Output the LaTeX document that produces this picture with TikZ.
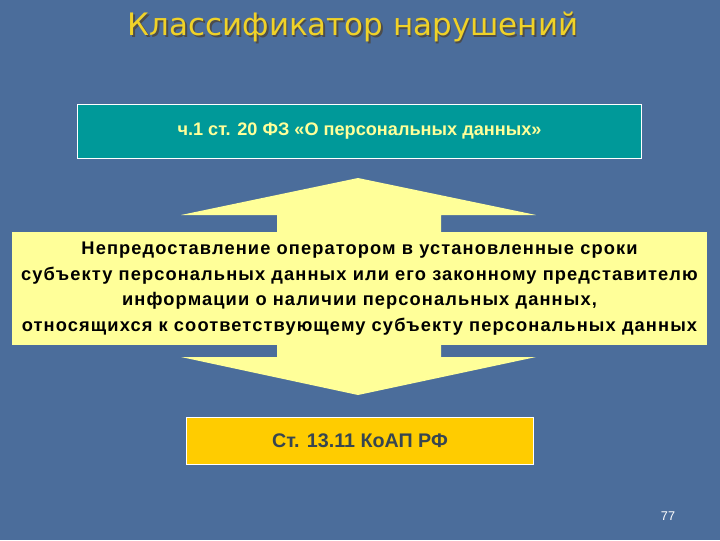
\documentclass[tikz,border=0pt]{standalone}
\usepackage{fontspec}
\setmainfont{Liberation Sans}
\newfontfamily\titlefont{DejaVu Sans}
\newfontfamily\spacedfont[LetterSpace=6]{Liberation Sans}
\usepackage{tikz}
\usetikzlibrary{positioning,calc}
\definecolor{slidebg}{RGB}{75,109,155}
\definecolor{tealbox}{RGB}{0,153,153}
\definecolor{paleyellow}{RGB}{255,255,153}
\definecolor{goldbox}{RGB}{255,204,0}
\definecolor{titleyellow}{RGB}{240,210,40}
\definecolor{darktext}{RGB}{55,70,80}
\tikzset{
	x=0.025cm, y=-0.025cm, % one unit is one pixel of the slide
	law/.style={draw=white, line width=0.7pt, fill=tealbox, text=paleyellow, font=\bfseries\fontsize{12.9}{15}\selectfont}, % the article box on top
	offence/.style={fill=paleyellow, align=center, font=\spacedfont\bfseries\fontsize{13}{18.2}\selectfont}, % the box in the arrow
	penalty/.style={draw=white, line width=0.7pt, fill=goldbox, text=darktext, font=\bfseries\fontsize{14}{16}\selectfont}, % the code box below
}
\begin{document}
\begin{tikzpicture}
	\fill[slidebg] (0,0) rectangle (720,540);
	\useasboundingbox (0,0) rectangle (720,540);
	% title with its shadow
	\node[text=black!70, font=\titlefont\fontsize{22}{26}\selectfont] at (354.5,28.5) {Классификатор нарушений};
	\node[text=titleyellow, font=\titlefont\fontsize{22}{26}\selectfont] (TITLE) at (353,27) {Классификатор нарушений};

	\node[law, minimum width=14.075cm, minimum height=1.35cm] (LAW) at (359.5,131) {ч.1 ст. 20 ФЗ «О персональных данных»};

	% the double arrow behind the text
	\fill[paleyellow] (277,240) -- (277,215) -- (181,215) -- (358,178) -- (536,215) -- (441,215) -- (441,240) -- cycle;
	\fill[paleyellow] (277,340) -- (277,357) -- (181,357) -- (358,395) -- (536,357) -- (441,357) -- (441,340) -- cycle;
	\node[offence, minimum width=17.375cm, minimum height=2.825cm] (OFFENCE) at (359.5,288.5) {Непредоставление оператором в установленные сроки\\субъекту персональных данных или его законному представителю\\информации о наличии персональных данных,\\относящихся к соответствующему субъекту персональных данных};

	\node[penalty, minimum width=8.65cm, minimum height=1.175cm] (PENALTY) at (360,440.5) {Ст. 13.11 КоАП РФ};

	\node[text=white, font=\fontsize{9}{11}\selectfont] (PAGE) at (668,516) {77};
\end{tikzpicture}
\end{document}
